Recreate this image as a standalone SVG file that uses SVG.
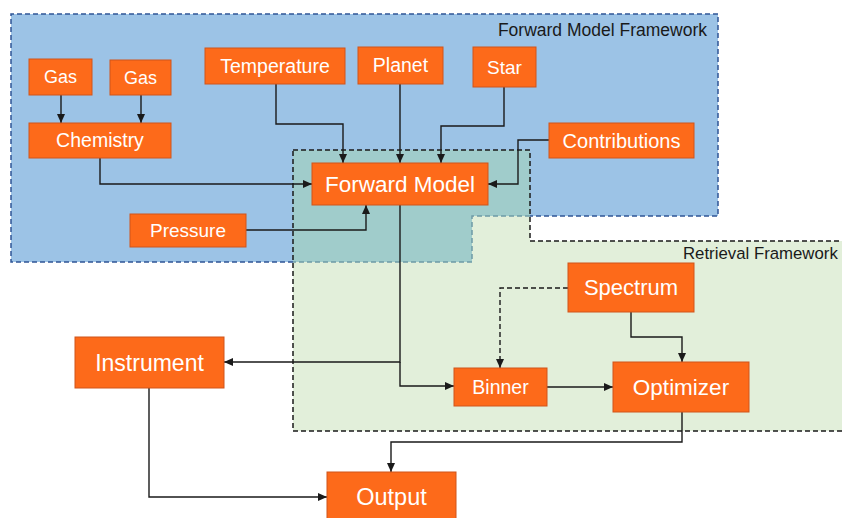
<svg xmlns="http://www.w3.org/2000/svg" width="842" height="518" viewBox="0 0 842 518">
<style>
.node rect{fill:#fd6a1a;stroke:#d0551a;stroke-width:1}
.node text{fill:#fff;font-family:"Liberation Sans",Arial,sans-serif;text-anchor:middle}
.conn path{fill:none;stroke:#1a1a1a;stroke-width:1.4}
.dash{stroke-dasharray:5,3}
.lbl{font-family:"Liberation Sans",Arial,sans-serif;fill:#1a1a1a}
</style>
<defs>
<marker id="ah" markerUnits="userSpaceOnUse" markerWidth="9" markerHeight="8" refX="9" refY="4" orient="auto">
<path d="M0,0 L9,4 L0,8 z" fill="#1a1a1a"/>
</marker>
</defs>
<rect width="842" height="518" fill="#fff"/>
<g id="frameworks">
<polygon points="11,14 718,14 718,216 472,216 472,262 11,262" fill="#9cc3e6"/>
<polygon points="293,150 530,150 530,241 842,241 842,431 293,431" fill="#e2efda"/>
<polygon points="293,150 530,150 530,216 472,216 472,262 293,262" fill="#a0cccb"/>
<path d="M293,262 L11,262 L11,14 L718,14 L718,216 L530,216" fill="none" stroke="#2f5597" stroke-width="1.5" stroke-dasharray="5,3"/>
<path d="M530,216 L472,216 L472,262 L293,262" fill="none" stroke="#6e9aa6" stroke-width="1.5" stroke-dasharray="5,3"/>
<path d="M293,150 L530,150 L530,241 L845,241 M842,431 L293,431 L293,150" fill="none" stroke="#1a1a1a" stroke-width="1.5" stroke-dasharray="5,3"/>
<text class="lbl" x="707" y="35.5" font-size="17.5" text-anchor="end">Forward Model Framework</text>
<text class="lbl" x="683" y="259" font-size="16.8">Retrieval Framework</text>
</g>
<g id="connectors" class="conn">
<path d="M61,95 V123" marker-end="url(#ah)"/>
<path d="M141,95 V123" marker-end="url(#ah)"/>
<path d="M100,158 V184 H312" marker-end="url(#ah)"/>
<path d="M276,84 V124 H343 V163" marker-end="url(#ah)"/>
<path d="M400,84 V163" marker-end="url(#ah)"/>
<path d="M504,87 V126 H441 V163" marker-end="url(#ah)"/>
<path d="M549,140 H518 V184 H488" marker-end="url(#ah)"/>
<path d="M246,230 H366 V205" marker-end="url(#ah)"/>
<path d="M400,205 V362 H224" marker-end="url(#ah)"/>
<path d="M400,362 V386 H454" marker-end="url(#ah)"/>
<path class="dash" d="M568,288 H500 V368" marker-end="url(#ah)"/>
<path d="M631,312 V337 H682 V362" marker-end="url(#ah)"/>
<path d="M547,387 H613" marker-end="url(#ah)"/>
<path d="M682,412 V442 H391 V472" marker-end="url(#ah)"/>
<path d="M149,388 V497 H327" marker-end="url(#ah)"/>
</g>
<g id="gas1" class="node"><rect x="29" y="59" width="63" height="36"/><text x="60.5" y="83.3" font-size="18">Gas</text></g>
<g id="gas2" class="node"><rect x="110" y="60" width="61" height="35"/><text x="140.5" y="83.8" font-size="18">Gas</text></g>
<g id="chemistry" class="node"><rect x="29" y="123" width="142" height="35"/><text x="100" y="147.3" font-size="19.5">Chemistry</text></g>
<g id="temperature" class="node"><rect x="205" y="48" width="140" height="36"/><text x="275" y="72.8" font-size="19.5">Temperature</text></g>
<g id="planet" class="node"><rect x="358" y="47" width="85" height="37"/><text x="400.5" y="72.3" font-size="19.5">Planet</text></g>
<g id="star" class="node"><rect x="473" y="47" width="63" height="40"/><text x="504.5" y="73.6" font-size="19">Star</text></g>
<g id="contributions" class="node"><rect x="549" y="123" width="145" height="35"/><text x="621.5" y="147.5" font-size="20">Contributions</text></g>
<g id="forward-model" class="node"><rect x="312" y="163" width="176" height="42"/><text x="400" y="191.9" font-size="22.5">Forward Model</text></g>
<g id="pressure" class="node"><rect x="130" y="214" width="116" height="33"/><text x="188" y="237.1" font-size="19">Pressure</text></g>
<g id="instrument" class="node"><rect x="75" y="337" width="149" height="51"/><text x="149.5" y="370.5" font-size="23">Instrument</text></g>
<g id="spectrum" class="node"><rect x="568" y="263" width="126" height="49"/><text x="631" y="295.2" font-size="22">Spectrum</text></g>
<g id="binner" class="node"><rect x="454" y="368" width="93" height="38"/><text x="500.5" y="393.8" font-size="19.5">Binner</text></g>
<g id="optimizer" class="node"><rect x="613" y="362" width="136" height="50"/><text x="681" y="394.9" font-size="22.5">Optimizer</text></g>
<g id="output" class="node"><rect x="327" y="472" width="129" height="50"/><text x="391.5" y="505" font-size="23.5">Output</text></g>
</svg>
